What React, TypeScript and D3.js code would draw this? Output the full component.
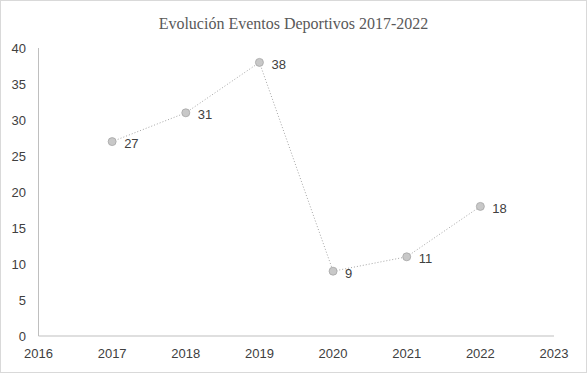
import React from "react";
import * as d3 from "d3";

const years = [2017, 2018, 2019, 2020, 2021, 2022];
const eventos = [27, 31, 38, 9, 11, 18];
const xTicks = [2016, 2017, 2018, 2019, 2020, 2021, 2022, 2023];
const yTicks = [0, 5, 10, 15, 20, 25, 30, 35, 40];
const title = "Evolución Eventos Deportivos 2017-2022";

const W = 587;
const H = 373;

export default function App() {
  const x = d3.scaleLinear().domain([2016, 2023]).range([38.5, 554]);
  const y = d3.scaleLinear().domain([0, 40]).range([336, 48]);

  const pts: [number, number][] = years.map((yr, i) => [x(yr), y(eventos[i])]);
  const linePath = d3.line()(pts) || "";
  const font = "'Liberation Sans', Arial, sans-serif";

  return (
    <svg
      width={W}
      height={H}
      style={{ position: "absolute", left: 0, top: 0, background: "#fff" }}
    >
      <rect x={0.5} y={0.5} width={W - 1} height={H - 1} fill="#fff" stroke="#d9d9d9" />
      <text
        x={W / 2}
        y={29}
        textAnchor="middle"
        fontFamily="'Liberation Serif', 'Times New Roman', serif"
        fontSize={16}
        fill="#595959"
      >
        {title}
      </text>

      {/* axes */}
      <line x1={x(2016)} x2={x(2016)} y1={y(40)} y2={y(0)} stroke="#bfbfbf" />
      <line x1={x(2016)} x2={x(2023)} y1={y(0)} y2={y(0)} stroke="#bfbfbf" />

      {yTicks.map((t) => (
        <text
          key={t}
          x={26}
          y={y(t)}
          dy="0.35em"
          textAnchor="end"
          fontFamily={font}
          fontSize={13}
          fill="#404040"
        >
          {t}
        </text>
      ))}
      {xTicks.map((t) => (
        <text
          key={t}
          x={x(t)}
          y={358}
          textAnchor="middle"
          fontFamily={font}
          fontSize={13}
          fill="#404040"
        >
          {t}
        </text>
      ))}

      <path d={linePath} fill="none" stroke="#a6a6a6" strokeWidth={1} strokeDasharray="1,2" />

      {pts.map(([px, py], i) => (
        <g key={years[i]}>
          <circle cx={px} cy={py} r={4} fill="#c8c8c8" stroke="#a6a6a6" strokeWidth={0.8} />
          <text
            x={px + 12}
            y={py + 2}
            dy="0.35em"
            fontFamily={font}
            fontSize={13}
            fill="#404040"
          >
            {eventos[i]}
          </text>
        </g>
      ))}
    </svg>
  );
}
